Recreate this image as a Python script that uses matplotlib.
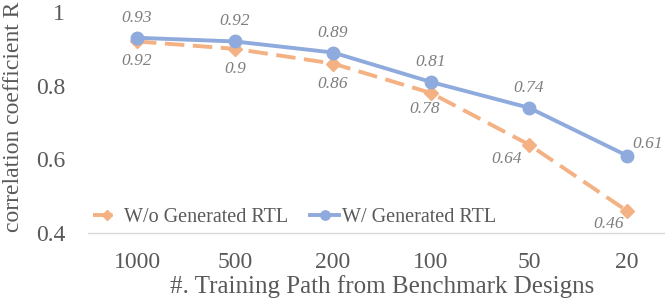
import matplotlib
matplotlib.use("Agg")
import matplotlib.pyplot as plt

categories = ["1000", "500", "200", "100", "50", "20"]
wo_rtl = [0.92, 0.90, 0.86, 0.78, 0.64, 0.46]
w_rtl = [0.93, 0.92, 0.89, 0.81, 0.74, 0.61]
wo_labels = ["0.92", "0.9", "0.86", "0.78", "0.64", "0.46"]
w_labels = ["0.93", "0.92", "0.89", "0.81", "0.74", "0.61"]
yticks = [0.4, 0.6, 0.8, 1.0]
ytick_labels = ["0.4", "0.6", "0.8", "1"]

plt.rcParams['font.family'] = ['Liberation Serif', 'DejaVu Serif']

orange = "#F4B183"
blue = "#8FAADC"
gray = "#7F7F7F"
text_c = "#595959"

W, H = 665, 307
fig = plt.figure(figsize=(W / 100, H / 100), dpi=100)
ax_l, ax_w = 88, 588
ax_top, ax_bot = 12, 233
ax = fig.add_axes([ax_l / W, (H - ax_bot) / H, ax_w / W, (ax_bot - ax_top) / H])

x = list(range(len(categories)))
ax.plot(x, wo_rtl, color=orange, lw=2.8, ls=(0, (5, 2.2)), marker="D", ms=7,
        label="W/o Generated RTL", zorder=3)
ax.plot(x, w_rtl, color=blue, lw=2.8, marker="o", ms=9,
        label="W/ Generated RTL", zorder=4)

PT = 0.72  # points per pixel at 100 dpi
lab_kw = dict(textcoords="offset points", fontsize=12.5, style="italic", color=gray,
              ha="center", va="center")
w_off = [(0, 20), (0, 20), (0, 20), (0, 20), (0, 20), (21, 12)]
wo_off = [(0, -20), (0, -20), (0, -20), (-6, -16), (-22, -14), (-18, -13)]
for i, (v, s) in enumerate(zip(w_rtl, w_labels)):
    dx, dy = w_off[i]
    ax.annotate(s, (i, v), xytext=(dx * PT, dy * PT), **lab_kw)
for i, (v, s) in enumerate(zip(wo_rtl, wo_labels)):
    dx, dy = wo_off[i]
    ax.annotate(s, (i, v), xytext=(dx * PT, dy * PT), **lab_kw)

ax.set_xlim(-0.5, len(categories) - 0.5)
ax.set_ylim(0.4, 1.0)
ax.set_yticks(yticks)
ax.set_yticklabels(ytick_labels)
ax.set_xticks(x)
ax.set_xticklabels(categories)
ax.tick_params(axis="both", length=0, labelsize=17, colors=text_c)
ax.tick_params(axis="x", pad=14)
ax.tick_params(axis="y", pad=16.5)
for sp in ["top", "right", "left"]:
    ax.spines[sp].set_visible(False)
ax.spines["bottom"].set_color("#D9D9D9")
ax.spines["bottom"].set_linewidth(1.0)

ax.set_xlabel("#. Training Path from Benchmark Designs", fontsize=18, color=text_c, labelpad=1)
fig.text(14 / W, 1 - 117 / H, "correlation coefficient R", rotation=90, fontsize=17,
         color=text_c, ha="center", va="center")

leg = ax.legend(loc="center left",
                bbox_to_anchor=(5 / ax_w, (ax_bot - 217) / (ax_bot - ax_top)),
                ncol=2, frameon=False, fontsize=14.5, handlelength=1.4, handletextpad=0.15,
                columnspacing=1.1, labelcolor=text_c, borderaxespad=0.0, borderpad=0.0,
                markerscale=0.75)

fig.savefig("out.png", dpi=100)
